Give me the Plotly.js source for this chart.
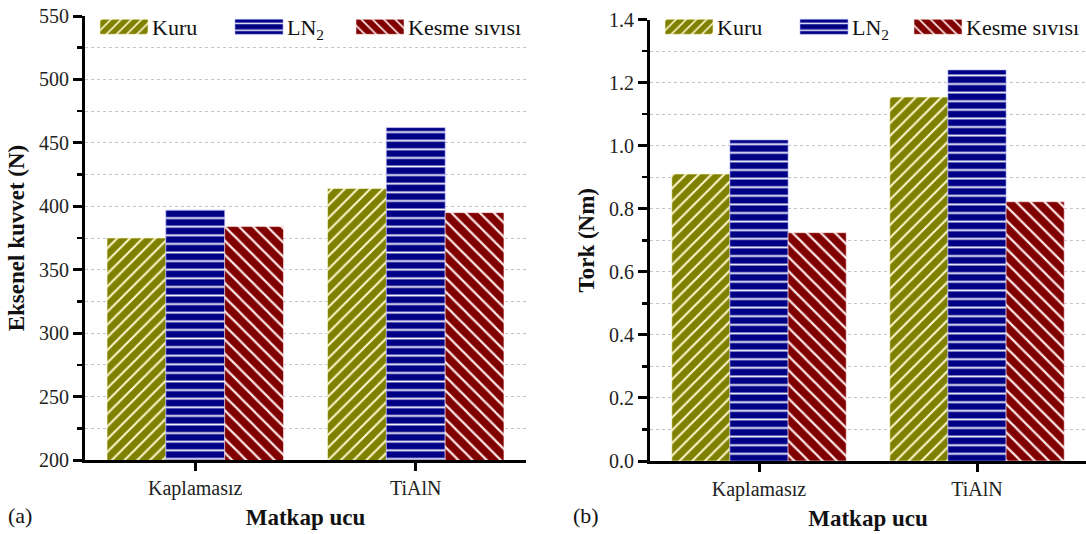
<!DOCTYPE html>
<html>
<head>
<meta charset="utf-8">
<script src="https://cdn.plot.ly/plotly-3.0.1.min.js"></script>
<style>html,body{margin:0;padding:0;background:#fff;}#chart{width:1086px;height:534px;}</style>
</head>
<body>
<div id="chart"></div>
<script>
// ---- data ----
const categories = ['Kaplamasız', 'TiAlN'];
const seriesNames = ['Kuru', 'LN<sub>2</sub>', 'Kesme sıvısı'];
const forceKuru = [375, 414];
const forceLN2 = [397, 462];
const forceKesme = [384, 395];
const torqueKuru = [0.910, 1.154];
const torqueLN2 = [1.018, 1.240];
const torqueKesme = [0.724, 0.822];
const forceTicks = [200, 250, 300, 350, 400, 450, 500, 550];
const torqueTicks = [0, 0.2, 0.4, 0.6, 0.8, 1.0, 1.2, 1.4];

// ---- styles ----
const FONT = 'Liberation Serif, Times New Roman, serif';
const styles = [
  {bg: '#808000', fg: '#fbf8d0', shape: '/', size: 9},
  {bg: '#000085', fg: '#f2f2ff', shape: '-', size: 8.6},
  {bg: '#800000', fg: '#fbe6e6', shape: '\\', size: 10}
];
// one legend per entry, so each entry sits where the reference puts it
const legendLeftPx = [96, 231, 352];
const legendRightPx = [661, 796, 910];

function bar(x, y, i, xa, ya, leg) {
  const s = styles[i];
  return {
    type: 'bar', x: x, y: y, name: seriesNames[i],
    xaxis: xa, yaxis: ya, legend: leg,
    marker: {
      color: s.bg,
      line: {width: 0.6, color: i === 1 ? '#b0b0ff' : s.fg},
      pattern: {shape: s.shape, fillmode: 'replace', bgcolor: s.bg, fgcolor: s.fg, size: s.size, solidity: 0.22}
    },
    hoverinfo: 'skip'
  };
}

const traces = [
  bar(categories, forceKuru, 0, 'x', 'y', 'legend'),
  bar(categories, forceLN2, 1, 'x', 'y', 'legend2'),
  bar(categories, forceKesme, 2, 'x', 'y', 'legend3'),
  bar(categories, torqueKuru, 0, 'x2', 'y2', 'legend4'),
  bar(categories, torqueLN2, 1, 'x2', 'y2', 'legend5'),
  bar(categories, torqueKesme, 2, 'x2', 'y2', 'legend6')
];

const tickFont = {family: FONT, size: 20, color: '#222'};
const titleFont = {family: FONT, size: 23, color: '#111', weight: 'bold'};

function xaxis(domain, anchor) {
  return {
    domain: domain, anchor: anchor, type: 'category', range: [-0.5, 1.5],
    showline: true, linewidth: 3, linecolor: '#000',
    ticks: 'outside', ticklen: 8, tickwidth: 3, tickcolor: '#000',
    tickfont: tickFont, showgrid: false, zeroline: false,
    title: {text: '<b>Matkap ucu</b>', font: titleFont, standoff: 10},
    automargin: false, fixedrange: true
  };
}
function yaxis(domain, anchor, range, ticks, fmt, minorDtick, title) {
  return {
    domain: domain, anchor: anchor, range: range,
    tickvals: ticks, tickformat: fmt,
    showline: true, linewidth: 3, linecolor: '#000',
    ticks: 'outside', ticklen: 9, tickwidth: 3, tickcolor: '#000',
    tickfont: tickFont,
    showgrid: true, gridcolor: '#c4c4cc', gridwidth: 1, griddash: 'dot',
    minor: {dtick: minorDtick, ticks: 'outside', ticklen: 5, tickwidth: 2.5, tickcolor: '#000',
            showgrid: true, gridcolor: '#c4c4cc', gridwidth: 1, griddash: 'dot'},
    zeroline: false,
    title: {text: '<b>' + title + '</b>', font: titleFont, standoff: 8},
    automargin: false, fixedrange: true
  };
}

function legendAt(px) {
  return {
    orientation: 'h', yanchor: 'top', xanchor: 'left', y: 1 - 6 / 534, x: px / 1086,
    bgcolor: 'rgba(0,0,0,0)', font: {family: FONT, size: 22, color: '#111'},
    itemwidth: 46, itemclick: false, itemdoubleclick: false
  };
}

const layout = {
  width: 1086, height: 534,
  margin: {l: 0, r: 0, t: 0, b: 0, autoexpand: false},
  paper_bgcolor: '#fff', plot_bgcolor: '#fff',
  barmode: 'group', bargap: 0.2, bargroupgap: 0,
  showlegend: true,
  xaxis: xaxis([85 / 1086, 526 / 1086], 'y'),
  yaxis: yaxis([1 - 460 / 534, 1 - 16 / 534], 'x', [200, 550], forceTicks, 'd', 25, 'Eksenel kuvvet (N)'),
  xaxis2: xaxis([650 / 1086, 1], 'y2'),
  yaxis2: yaxis([1 - 461 / 534, 1 - 19.5 / 534], 'x2', [0, 1.4], torqueTicks, '.1f', 0.1, 'Tork (Nm)'),
  legend: legendAt(legendLeftPx[0]),
  legend2: legendAt(legendLeftPx[1]),
  legend3: legendAt(legendLeftPx[2]),
  legend4: legendAt(legendRightPx[0]),
  legend5: legendAt(legendRightPx[1]),
  legend6: legendAt(legendRightPx[2]),
  annotations: [
    {text: '(a)', xref: 'paper', yref: 'paper', x: 6 / 1086, y: 1 - 515 / 534, xanchor: 'left', yanchor: 'middle',
     showarrow: false, font: {family: FONT, size: 22, color: '#111'}},
    {text: '(b)', xref: 'paper', yref: 'paper', x: 571 / 1086, y: 1 - 515 / 534, xanchor: 'left', yanchor: 'middle',
     showarrow: false, font: {family: FONT, size: 22, color: '#111'}}
  ]
};

Plotly.newPlot('chart', traces, layout, {displayModeBar: false, staticPlot: true}).then(function (gd) {
  // widen legend swatches to match the reference's long rectangles
  document.querySelectorAll('.legendpoints path').forEach(function (p) {
    p.setAttribute('d', 'M24,7.5H-24V-7.5H24Z');
  });
});
</script>
</body>
</html>
